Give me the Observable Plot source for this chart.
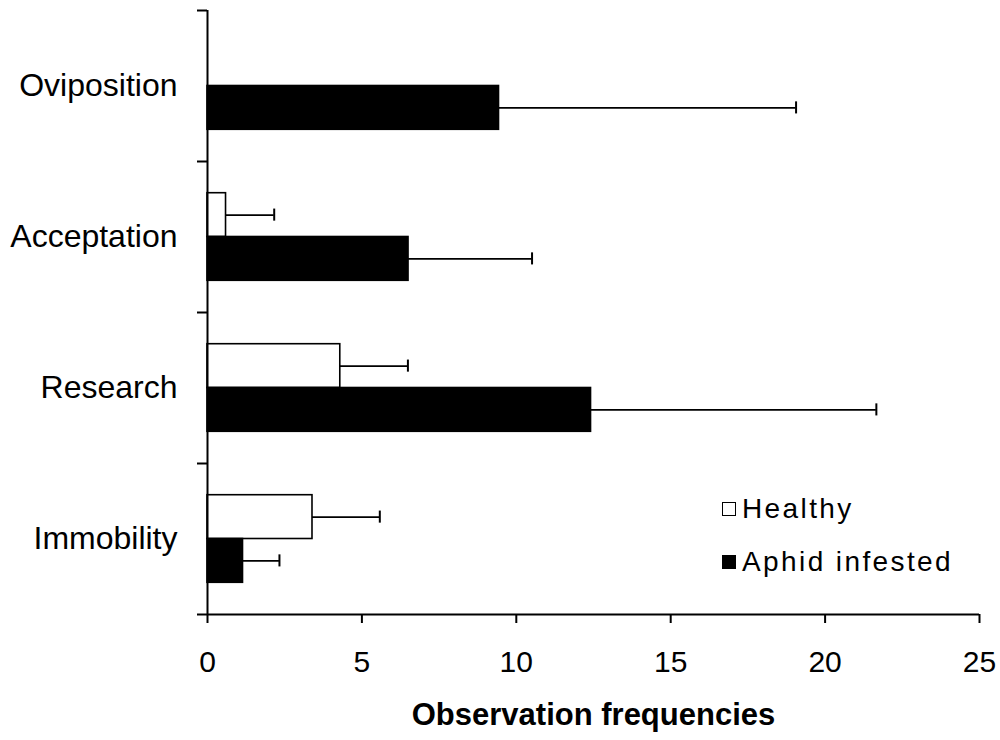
<!DOCTYPE html>
<html>
<head>
<meta charset="utf-8">
<script src="https://cdn.jsdelivr.net/npm/d3@7"></script>
<script src="https://cdn.jsdelivr.net/npm/@observablehq/plot@0.6"></script>
<style>
  body { margin: 0; background: #fff; }
  #chart { position: relative; width: 1000px; height: 740px; font-family: "Liberation Sans", Arial, sans-serif; color: #000; }
  #chart svg { display: block; }
  .legend-item { position: absolute; left: 722px; height: 28px; line-height: 28px; font-size: 28px; letter-spacing: 2.4px; display: flex; align-items: center; white-space: nowrap; }
  .swatch { width: 14px; height: 14px; border: 1.5px solid #000; box-sizing: border-box; margin-right: 6px; flex: none; }
</style>
</head>
<body>
<div id="chart"></div>
<script>
// Behaviour categories, listed top to bottom
const categories = ["Oviposition", "Acceptation", "Research", "Immobility"];
// Plant treatments
const series = ["Healthy", "Aphid infested"];
// Mean observation frequencies and their error (upper whisker length)
const healthyMean = [0, 0.6, 4.3, 3.4];
const healthyErr = [0, 1.56, 2.19, 2.18];
const aphidMean = [9.44, 6.51, 12.42, 1.15];
const aphidErr = [9.62, 4.0, 9.24, 1.18];
// Frequency axis
const xDomain = [0, 25];
const xTicks = [0, 5, 10, 15, 20, 25];
const xLabel = "Observation frequencies";

// Position of the paired bars inside each category band (fractions of the band)
const BAR_TOP = 0.21, BAR_MID = 0.5, BAR_BOTTOM = 0.79, CAP = 0.04;

const rows = categories.flatMap((category, i) => [
  {category, series: series[0], mean: healthyMean[i], err: healthyErr[i], y1: i + BAR_TOP, y2: i + BAR_MID},
  {category, series: series[1], mean: aphidMean[i], err: aphidErr[i], y1: i + BAR_MID, y2: i + BAR_BOTTOM}
]).filter(d => d.mean > 0)
  .map(d => ({...d, yc: (d.y1 + d.y2) / 2, upper: d.mean + d.err}));

const font = '"Liberation Sans", Arial, sans-serif';

const chart = Plot.plot({
  width: 1000,
  height: 740,
  marginLeft: 207,
  marginRight: 21,
  marginTop: 10,
  marginBottom: 126,
  style: {fontFamily: font, fontSize: "30px", color: "#000", background: "#fff", overflow: "visible"},
  x: {domain: xDomain},
  y: {domain: [0, categories.length], reverse: true},
  color: {domain: series, range: ["#fff", "#000"]},
  marks: [
    // error whiskers
    Plot.ruleY(rows, {x1: "mean", x2: "upper", y: "yc", stroke: "#000", strokeWidth: 1.7}),
    Plot.ruleX(rows, {x: "upper", y1: d => d.yc - CAP, y2: d => d.yc + CAP, stroke: "#000", strokeWidth: 2}),
    // bars
    Plot.rect(rows, {x1: 0, x2: "mean", y1: "y1", y2: "y2", fill: "series", stroke: "#000", strokeWidth: 1.6}),
    // frequency axis
    Plot.axisX({ticks: xTicks, tickSize: 9, tickPadding: 27, strokeWidth: 2, label: null}),
    Plot.axisX({ticks: [], label: xLabel, labelAnchor: "center", labelOffset: 110, labelArrow: "none", fontWeight: "bold", fontSize: 31}),
    // category axis: ticks on band boundaries, names at band centres
    Plot.axisY({ticks: d3.range(categories.length + 1), tickSize: 10, tickFormat: () => "", strokeWidth: 2, label: null}),
    Plot.axisY({ticks: categories.map((_, i) => i + 0.5), tickSize: 0, tickPadding: 30, tickFormat: v => categories[Math.floor(v)], fontSize: 32, label: null}),
    // axis lines
    Plot.ruleX([0], {stroke: "#000", strokeWidth: 2}),
    Plot.ruleY([categories.length], {stroke: "#000", strokeWidth: 2})
  ]
});

const root = document.getElementById("chart");
root.appendChild(chart);

// legend
const legendTops = [495, 548];
series.forEach((name, i) => {
  const item = document.createElement("div");
  item.className = "legend-item";
  item.style.top = legendTops[i] + "px";
  const sw = document.createElement("span");
  sw.className = "swatch";
  sw.style.background = chart.scale("color").apply(name);
  item.appendChild(sw);
  item.appendChild(document.createTextNode(name));
  root.appendChild(item);
});
</script>
</body>
</html>
